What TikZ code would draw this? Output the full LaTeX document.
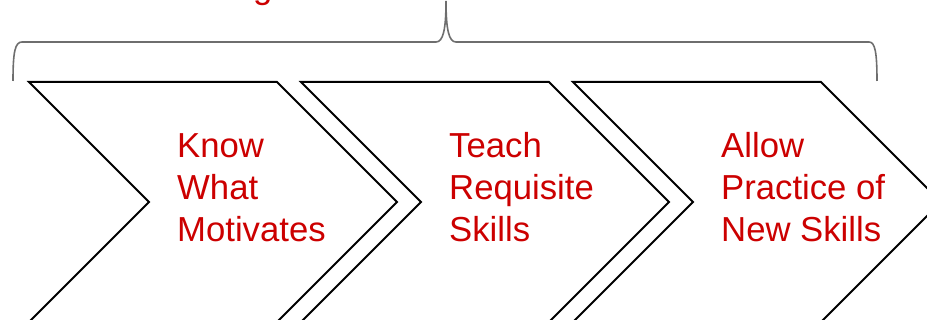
\documentclass[tikz,border=0pt]{standalone}
\usepackage{fontspec}
\setmainfont{Liberation Sans}
\definecolor{txtred}{RGB}{204,0,0}
\definecolor{bracegray}{RGB}{110,110,110}
\begin{document}
\begin{tikzpicture}[x=1pt,y=-1pt,
  chev/.style={draw=black, line width=2pt, line join=miter, fill=white},
  lbl/.style={text=txtred, font=\fontsize{34.7}{42}\selectfont, align=left, anchor=base west, inner sep=0pt},
  bracestyle/.style={draw=bracegray, line width=1.6pt}]
\useasboundingbox (0,0) rectangle (927,320);
\clip (0,0) rectangle (927,320);
% title fragment
\node[text=txtred, font=\fontsize{34.7}{42}\selectfont, anchor=base west, inner sep=0pt] (title) at (253,-1.5) {g};
% brace
\draw[bracestyle] (13,81) .. controls (13,52) and (15,42) .. (22,42) -- (436,42)
  .. controls (443,42) and (446,30) .. (446,1)
  .. controls (446,30) and (449,42) .. (456,42) -- (869,42)
  .. controls (875,42) and (877,52) .. (877,81);
% chevrons
\foreach \x/\n in {29/c1,301/c2,573/c3}{
  \draw[chev] (\x,82) -- ({\x+248},82) -- ({\x+368},202) -- ({\x+248},322) -- (\x,322) -- ({\x+120},202) -- cycle;
}
\node[lbl] (t1) at (177,241.5) {Know\\What\\Motivates};
\node[lbl] (t2) at (449,241.5) {Teach\\Requisite\\Skills};
\node[lbl] (t3) at (721,241.5) {Allow\\Practice of\\New Skills};
\end{tikzpicture}
\end{document}
